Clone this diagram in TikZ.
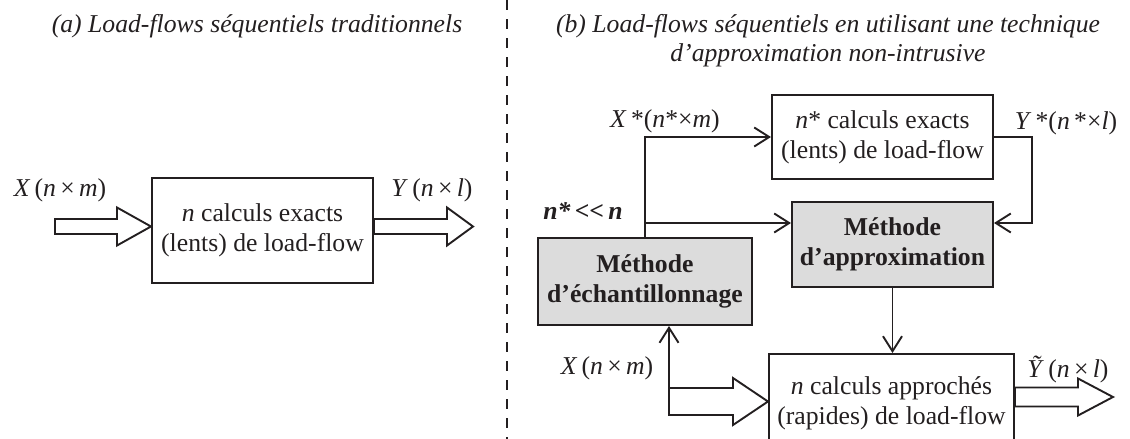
\documentclass[tikz,border=0pt]{standalone}
\usepackage{fontspec}
\setmainfont{Liberation Serif}
\usetikzlibrary{arrows.meta,calc}
\definecolor{boxgray}{RGB}{220,220,220}
\definecolor{ink}{RGB}{35,31,32}
\newcommand{\fatarr}[5]{%
  \draw[fatline] ($#1+(0,-#3)$) -- ($#2+(-#5,-#3)$) -- ($#2+(-#5,-#4)$) -- #2
    -- ($#2+(-#5,#4)$) -- ($#2+(-#5,#3)$) -- ($#1+(0,#3)$) -- cycle;}
\begin{document}
\begin{tikzpicture}[x=1pt,y=-1pt,
  every node/.style={font=\fontsize{25.7}{30}\selectfont, text=ink},
  blk/.style={draw=ink, line width=2pt, align=center, inner sep=0pt},
  grayblk/.style={blk, fill=boxgray, font=\bfseries\fontsize{25.7}{30}\selectfont},
  conn/.style={draw=ink, line width=1.9pt, -{Straight Barb[length=15pt,width=19pt,line width=1.9pt]}},
  fatline/.style={draw=ink, line width=1.9pt, line join=miter},
  lbl/.style={anchor=base, inner sep=0pt},
  ttl/.style={anchor=base, inner sep=0pt, font=\itshape\fontsize{25.7}{30}\selectfont},
  sep/.style={draw=ink, line width=1.6pt, dash pattern=on 10pt off 9pt}
]
\useasboundingbox (0,0) rectangle (1130,439);
\clip (0,0) rectangle (1130,439);

% titles
\node[ttl] (ta) at (257,32) {(a) Load-flows séquentiels traditionnels};
\node[ttl] (tb1) at (828,32) {(b) Load-flows séquentiels en utilisant une technique};
\node[ttl] (tb2) at (828,61) {d’approximation non-intrusive};

% separator
\coordinate (dtop) at (507,0);
\coordinate (dbot) at (507,445);
\draw[sep] (dtop) -- (dbot);

% ---------- (a)
\node[blk, minimum width=221pt, minimum height=105pt] (boxA) at (262.5,230.5)
  {\textit{n} calculs exacts\\(lents) de load-flow};
\coordinate (ain) at (55,226.5);
\coordinate (ainTip) at (boxA.west |- ain);
\fatarr{(ain)}{(ainTip)}{7.5}{19}{34}
\coordinate (aoutTip) at (473,226.5);
\coordinate (aout) at (boxA.east |- aoutTip);
\fatarr{(aout)}{(aoutTip)}{7.5}{19}{26}
\node[lbl] (xa) at (60,196) {\textit{X}\,(\textit{n}\,×\,\textit{m})};
\node[lbl] (ya) at (432,196) {\textit{Y}\,(\textit{n}\,×\,\textit{l})};

% ---------- (b)
\node[blk, minimum width=221pt, minimum height=84pt] (top) at (882.5,137)
  {\textit{n}* calculs exacts\\(lents) de load-flow};
\node[grayblk, minimum width=201pt, minimum height=85pt] (approx) at (892.5,244.5)
  {Méthode\\d’approximation};
\node[grayblk, minimum width=214pt, minimum height=87pt] (ech) at (645,281.5)
  {Méthode\\d’échantillonnage};
\node[blk, minimum width=245pt, minimum height=98pt] (bottom) at (891.5,403)
  {\textit{n} calculs approchés\\(rapides) de load-flow};

\coordinate (h223) at (0,223);
\coordinate (mid) at (ech.north |- h223);
\draw[conn] (ech.north) |- (top.west);
\draw[conn] (mid) -- (mid -| approx.west);
\coordinate (yr) at (1032,223);
\draw[conn] (top.east) -| (yr) -- (yr -| approx.east);
\draw[conn] (approx.south) -- (approx.south |- bottom.north);

\coordinate (bin) at (669,401.5);
\coordinate (binTip) at (bottom.west |- bin);
\fatarr{(bin)}{(binTip)}{13.5}{23.5}{35}
\draw[conn] ($(bin)+(0,13.5)$) -- (bin |- ech.south);

\coordinate (boutTip) at (1113,397);
\coordinate (bout) at (bottom.east |- boutTip);
\fatarr{(bout)}{(boutTip)}{9.5}{18.5}{35}

\node[lbl] (xs) at (665,127) {\textit{X}\,*(\textit{n}*×\textit{m})};
\node[lbl] (ys) at (1066,129) {\textit{Y}\,*(\textit{n}\,*×\textit{l})};
\node[lbl, font=\bfseries\itshape\fontsize{25.7}{30}\selectfont] (nn) at (583,219) {n*\,<{}<\,n};
\node[lbl] (xb) at (607,374) {\textit{X}\,(\textit{n}\,×\,\textit{m})};
\node[lbl] (yt) at (1068,377) {\textit{Ỹ}\,(\textit{n}\,×\,\textit{l})};
\end{tikzpicture}
\end{document}
